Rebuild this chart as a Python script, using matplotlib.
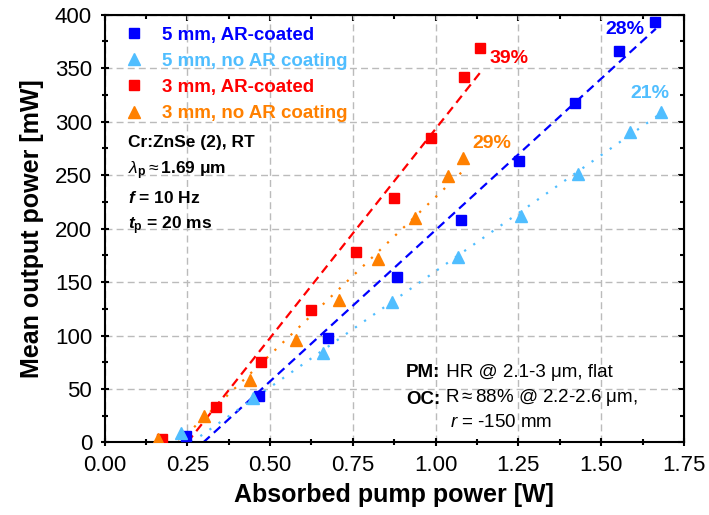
import matplotlib
matplotlib.use("Agg")
import numpy as np
import matplotlib.pyplot as plt
from matplotlib.ticker import MultipleLocator

# measured points: absorbed pump power [W] vs mean output power [mW]
x_5mm_ar = [0.246, 0.468, 0.676, 0.884, 1.078, 1.251, 1.422, 1.555, 1.663]
y_5mm_ar = [6, 43, 98, 155, 208, 263, 317, 366, 393]
x_5mm_no = [0.231, 0.448, 0.659, 0.868, 1.068, 1.258, 1.430, 1.588, 1.680]
y_5mm_no = [9, 42, 84, 131, 173, 212, 251, 290, 309]
x_3mm_ar = [0.173, 0.336, 0.473, 0.623, 0.760, 0.875, 0.985, 1.086, 1.135]
y_3mm_ar = [3, 33, 75, 124, 178, 229, 285, 342, 369]
x_3mm_no = [0.163, 0.300, 0.438, 0.577, 0.708, 0.826, 0.939, 1.036, 1.084]
y_3mm_no = [3, 25, 58, 96, 133, 172, 210, 249, 266]

labels = ["5 mm, AR-coated", "5 mm, no AR coating", "3 mm, AR-coated", "3 mm, no AR coating"]
colors = ["#0000FF", "#50BEFF", "#FF0000", "#FF8000"]
markers = ["s", "^", "s", "^"]

# linear fits: slope [mW/W], threshold [W], end of fit [W]
fit_slope = [283, 217, 391, 295]
fit_threshold = [0.298, 0.262, 0.250, 0.222]
fit_end = [1.665, 1.67, 1.14, 1.085]
fit_styles = [(0, (4, 2.5)), (0, (1, 4)), (0, (4, 2.5)), (0, (1, 4))]

eff_labels = ["28%", "21%", "39%", "29%"]
eff_pos = [(1.572, 386), (1.646, 326), (1.221, 359), (1.169, 280)]

plt.rcParams['font.family'] = ['Liberation Sans', 'DejaVu Sans']
plt.rcParams['mathtext.fontset'] = 'custom'
plt.rcParams['mathtext.rm'] = 'Liberation Sans'
plt.rcParams['mathtext.it'] = 'Liberation Sans:italic'
plt.rcParams['mathtext.bf'] = 'Liberation Sans:bold'
plt.rcParams['mathtext.bfit'] = 'Liberation Sans:italic:bold'

fig = plt.figure(figsize=(7.09, 5.15), dpi=100)
ax = fig.add_axes([0.1474, 0.1408, 0.8173, 0.8307])

xs = [x_5mm_ar, x_5mm_no, x_3mm_ar, x_3mm_no]
ys = [y_5mm_ar, y_5mm_no, y_3mm_ar, y_3mm_no]
sizes = [7, 8.5, 7, 8.5]

for i in range(4):
    fx = np.array([fit_threshold[i], fit_end[i]])
    fy = fit_slope[i] * (fx - fit_threshold[i])
    ax.plot(fx, fy, color=colors[i], lw=1.6, linestyle=fit_styles[i], zorder=2)
for i in range(4):
    ax.plot(xs[i], ys[i], linestyle='none', marker=markers[i], ms=sizes[i],
            color=colors[i], mec=colors[i], label=labels[i], zorder=3)

for i in range(4):
    ax.text(eff_pos[i][0], eff_pos[i][1], eff_labels[i], color=colors[i],
            fontsize=14, fontweight='bold', ha='center', va='center')

ax.set_xlim(0, 1.75)
ax.set_ylim(0, 400)
ax.xaxis.set_major_locator(MultipleLocator(0.25))
ax.xaxis.set_minor_locator(MultipleLocator(0.125))
ax.yaxis.set_major_locator(MultipleLocator(50))
ax.yaxis.set_minor_locator(MultipleLocator(25))
ax.xaxis.set_major_formatter(plt.FormatStrFormatter('%.2f'))
ax.grid(True, which='major', color='#BBBBBB', lw=1, linestyle=(0, (5, 3)))
ax.set_axisbelow(True)

for s in ax.spines.values():
    s.set_linewidth(1.5)
ax.tick_params(which='both', direction='inout', width=1.5, labelsize=16)
ax.tick_params(which='major', length=6)
ax.tick_params(which='minor', length=4)
ax.tick_params(axis='x', pad=6)
ax.tick_params(axis='y', pad=6)

top = ax.secondary_xaxis('top')
top.xaxis.set_major_locator(MultipleLocator(0.25))
top.xaxis.set_minor_locator(MultipleLocator(0.125))
top.tick_params(which='both', direction='in', width=1.5, labeltop=False)
top.tick_params(which='major', length=4.5)
top.tick_params(which='minor', length=3)
right = ax.secondary_yaxis('right')
right.yaxis.set_major_locator(MultipleLocator(50))
right.yaxis.set_minor_locator(MultipleLocator(25))
right.tick_params(which='both', direction='in', width=1.5, labelright=False)
right.tick_params(which='major', length=4.5)
right.tick_params(which='minor', length=3)

ax.set_xlabel('Absorbed pump power [W]', fontsize=18, fontweight='bold', labelpad=5)
ax.set_ylabel('Mean output power [mW]', fontsize=18, fontweight='bold', labelpad=8)

leg = ax.legend(loc='upper left', bbox_to_anchor=(0.035, 0.972), frameon=False,
                prop={'weight': 'bold', 'size': 13.5}, handlelength=1.0,
                handletextpad=1.0, labelspacing=0.48, borderpad=0, borderaxespad=0,
                numpoints=1)
for t, c in zip(leg.get_texts(), colors):
    t.set_color(c)

info = ['Cr:ZnSe (2), RT',
        r'$\lambda_\mathbf{p}\approx$1.69 μm',
        r'$\mathbfit{f}$ = 10 Hz',
        r'$\mathbfit{t}_\mathbf{p}$ = 20 ms']
info_y = [0.6914, 0.6276, 0.5591, 0.4984]
for s, yy in zip(info, info_y):
    ax.text(0.041, yy, s, transform=ax.transAxes, fontsize=12.5, fontweight='bold',
            va='baseline', ha='left')

# cavity description: bold key followed by regular text
pm = ax.text(0.5207, 0.1524, 'PM:', transform=ax.transAxes, fontsize=13.5,
             fontweight='bold', va='baseline', ha='left')
ax.annotate(' HR @ 2.1-3 μm, flat', xy=(1, 0), xycoords=pm, fontsize=13.5,
            va='bottom', ha='left')
oc = ax.text(0.5207, 0.090, 'OC:', transform=ax.transAxes, fontsize=13.5,
             fontweight='bold', va='baseline', ha='left')
ax.annotate(r' R$\approx$88% @ 2.2-2.6 μm,', xy=(1, 0), xycoords=oc, fontsize=13.5,
            va='bottom', ha='left')
ax.text(0.5966, 0.0355, r'$\mathit{r}$ = -150 mm', transform=ax.transAxes,
        fontsize=13.5, va='baseline', ha='left')

fig.savefig('out.png', dpi=100)
